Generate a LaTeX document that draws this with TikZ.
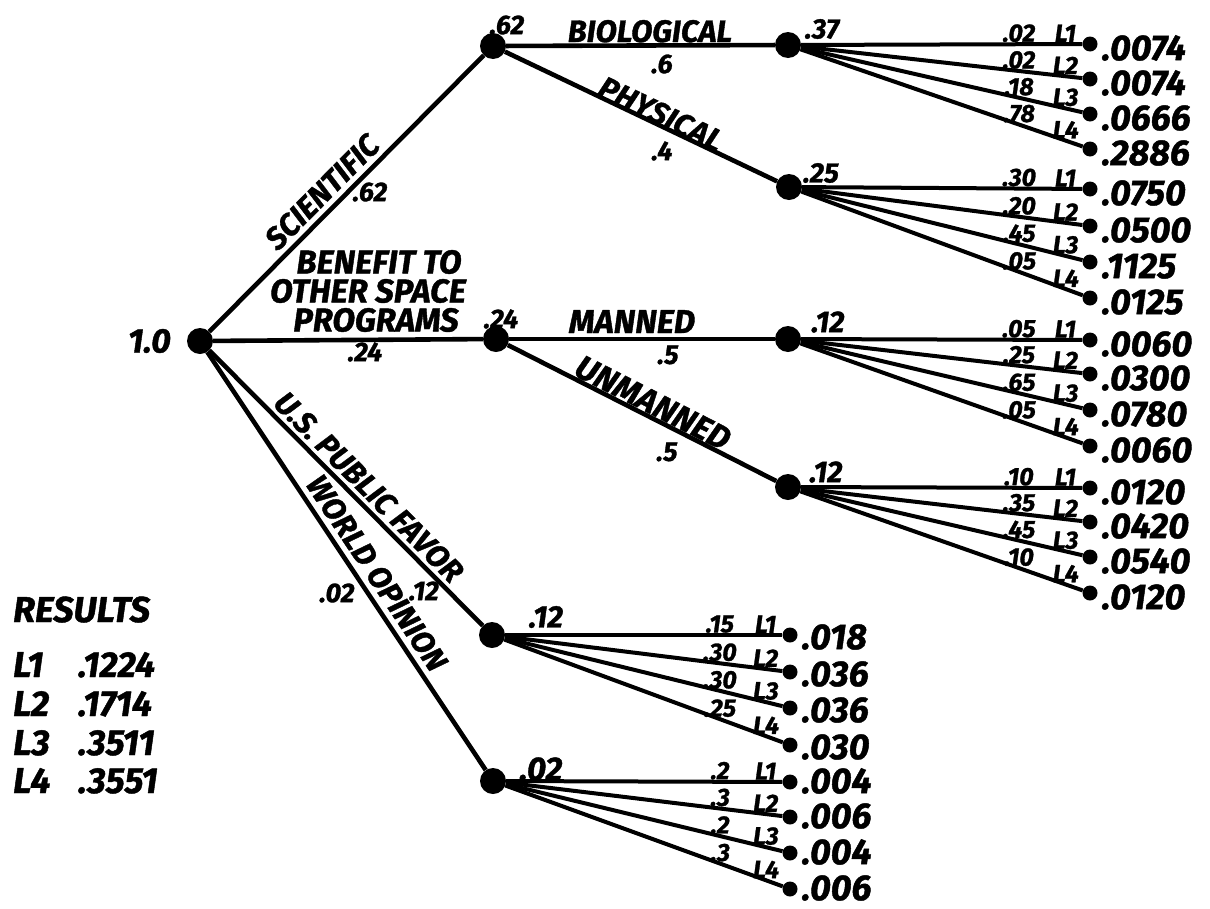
\documentclass[tikz,border=0pt]{standalone}
\usepackage{fontspec}
\setmainfont{Fira Sans}[BoldItalicFeatures={FakeBold=1.2}]
\tikzset{
  hub/.style={circle,fill=black,inner sep=0pt,minimum size=26pt},
  tip/.style={circle,fill=black,inner sep=0pt,minimum size=15pt},
  conn/.style={line width=4.6pt},
  twig/.style={line width=4pt},
  hand/.style={font=\bfseries\itshape\fontsize{#1}{#1}\selectfont,inner sep=1pt},
  word/.style={hand=31},
  prob/.style={hand=27},
  tiny/.style={hand=25,inner sep=0.2pt},
  val/.style={hand=36,anchor=west,inner sep=0pt},
  res/.style={hand=36,anchor=base west,inner sep=0pt},
}
\begin{document}
\begin{tikzpicture}[x=1pt,y=-1pt]
\useasboundingbox[fill=white] (0,0) rectangle (1210,908);
% hubs
\node[hub] (root) at (200,341) {};
\node[hub] (sci) at (493,46) {};
\node[hub] (ben) at (496,339) {};
\node[hub] (pub) at (492,635) {};
\node[hub] (wor) at (493,781) {};
\node[hub] (bio) at (788,45) {};
\node[hub] (phy) at (789,187) {};
\node[hub] (man) at (788,339) {};
\node[hub] (unm) at (788,487) {};
% main connectors
\draw[conn] (root) -- (sci);
\draw[conn] (root) -- (ben);
\draw[conn] (root) -- (pub);
\draw[conn] (root) -- (wor);
\draw[conn] (sci) -- (bio);
\draw[conn] (sci) -- (phy);
\draw[conn] (ben) -- (man);
\draw[conn] (ben) -- (unm);
% labels of the main branches
\node[hand=34,anchor=east] (one) at (172,341) {1.0};
\node[word,rotate=45.2] (tsci) at (322,192) {SCIENTIFIC};
\node[prob] (psci) at (370,192) {.62};
\node[align=center,inner sep=0pt,font=\bfseries\itshape\fontsize{33}{29}\selectfont] (tben) at (368,291)
  {\hspace*{22pt}BENEFIT TO\\OTHER SPACE\\\hspace*{16pt}PROGRAMS};
\node[prob] (pben) at (365,352) {.24};
\node[word,rotate=-45.2] (tpub) at (369,487) {U.S. PUBLIC FAVOR};
\node[prob] (ppub) at (424,591) {.12};
\node[word,rotate=-56.3] (twor) at (377,573) {WORLD OPINION};
\node[prob] (pwor) at (337,593) {.02};
\node[word,anchor=base] (tbio) at (650,42) {BIOLOGICAL};
\node[prob] (pbio) at (662,64) {.6};
\node[word,rotate=-25.5] (tphy) at (661,114) {PHYSICAL};
\node[prob] (pphy) at (662,151) {.4};
\node[word,anchor=base,font=\bfseries\itshape\fontsize{33}{33}\selectfont] (tman) at (632,333) {MANNED};
\node[prob] (pman) at (668,355) {.5};
\node[word,rotate=-27,font=\bfseries\itshape\fontsize{33}{33}\selectfont] (tunm) at (653,403) {UNMANNED};
\node[prob] (punm) at (667,452) {.5};
% hub values
\node[prob] (vsci) at (507,25) {.62};
\node[prob] (vben) at (501,319) {.24};
\node[hand=28] (vbio) at (822,29) {.37};
\node[hand=28] (vphy) at (821,173) {.25};
\node[hand=30] (vman) at (828,322) {.12};
\node[hand=30] (vunm) at (826,472) {.12};
\node[hand=31] (vpub) at (546,617) {.12};
\node[hand=33] (vwor) at (541,769) {.02};
% leaf clusters
\foreach \i/\y/\p/\v in {1/44/.02/.0074,2/79/.02/.0074,3/114/.18/.0666,4/149/.78/.2886}{
  \node[tip] (bio\i) at (1090,\y) {};
  \draw[twig] (bio) -- node[tiny,pos=.775,above] (bioP\i) {\p} node[tiny,pos=.94,above] (bioL\i) {L\i} (bio\i);
  \node[val] (bioV\i) at ([xshift=4pt,yshift=-4pt]bio\i.east) {\v};
}
\foreach \i/\y/\p/\v in {1/189/.30/.0750,2/226/.20/.0500,3/262/.45/.1125,4/298/.05/.0125}{
  \node[tip] (phy\i) at (1090,\y) {};
  \draw[twig] (phy) -- node[tiny,pos=.775,above] (phyP\i) {\p} node[tiny,pos=.94,above] (phyL\i) {L\i} (phy\i);
  \node[val] (phyV\i) at ([xshift=4pt,yshift=-4pt]phy\i.east) {\v};
}
\foreach \i/\y/\p/\v in {1/340/.05/.0060,2/374/.25/.0300,3/410/.65/.0780,4/446/.05/.0060}{
  \node[tip] (man\i) at (1090,\y) {};
  \draw[twig] (man) -- node[tiny,pos=.775,above] (manP\i) {\p} node[tiny,pos=.94,above] (manL\i) {L\i} (man\i);
  \node[val] (manV\i) at ([xshift=4pt,yshift=-4pt]man\i.east) {\v};
}
\foreach \i/\y/\p/\v in {1/488/.10/.0120,2/522/.35/.0420,3/557/.45/.0540,4/593/.10/.0120}{
  \node[tip] (unm\i) at (1090,\y) {};
  \draw[twig] (unm) -- node[tiny,pos=.775,above] (unmP\i) {\p} node[tiny,pos=.94,above] (unmL\i) {L\i} (unm\i);
  \node[val] (unmV\i) at ([xshift=4pt,yshift=-4pt]unm\i.east) {\v};
}
\foreach \i/\y/\p/\v in {1/635/.15/.018,2/672/.30/.036,3/708/.30/.036,4/745/.25/.030}{
  \node[tip] (pub\i) at (790,\y) {};
  \draw[twig] (pub) -- node[tiny,pos=.775,above] (pubP\i) {\p} node[tiny,pos=.94,above] (pubL\i) {L\i} (pub\i);
  \node[val] (pubV\i) at ([xshift=4pt,yshift=-2pt]pub\i.east) {\v};
}
\foreach \i/\y/\p/\v in {1/782/.2/.004,2/817/.3/.006,3/853/.2/.004,4/889/.3/.006}{
  \node[tip] (wor\i) at (790,\y) {};
  \draw[twig] (wor) -- node[tiny,pos=.775,above] (worP\i) {\p} node[tiny,pos=.94,above] (worL\i) {L\i} (wor\i);
  \node[val] (worV\i) at ([xshift=4pt,yshift=1pt]wor\i.east) {\v};
}
% results
\node[res] (rhead) at (13,622) {RESULTS};
\foreach \i/\y/\v in {1/677/.1224,2/716/.1714,3/755/.3511,4/793/.3551}{
  \node[res] (rl\i) at (13,\y) {L\i};
  \node[res] (rv\i) at (78,\y) {\v};
}
\end{tikzpicture}
\end{document}
